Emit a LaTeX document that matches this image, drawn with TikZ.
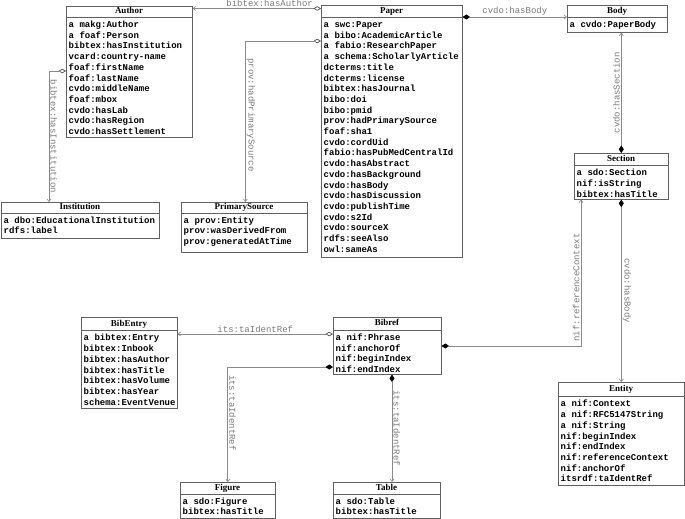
\documentclass[tikz,border=0pt]{standalone}
\usepackage{fontspec}
\setmainfont{Liberation Serif}
\newfontfamily\monof{Liberation Mono}
\usetikzlibrary{arrows.meta}
\definecolor{boxc}{HTML}{606060}
\definecolor{linec}{HTML}{8A8A8A}
\definecolor{lblc}{HTML}{7A7A7A}
\tikzset{
  clsbox/.style={draw=boxc, line width=0.6pt, inner sep=0pt, fill=white},
  clstitle/.style={font=\bfseries\fontsize{9}{10}\selectfont, text height=6pt, text depth=1.5pt, inner sep=0pt},
  clssep/.style={draw=boxc, line width=0.6pt},
  clsrows/.style={font=\monof\bfseries\fontsize{9}{10.7}\selectfont, align=left, inner xsep=2.5pt, inner ysep=3pt},
  odiam/.tip={Diamond[open,length=7.5pt,width=4.5pt,color=black!70]},
  fdiam/.tip={Diamond[length=7.5pt,width=5pt,color=black]},
  harr/.tip={Straight Barb[length=2.5pt,width=4pt]},
  assoc/.style={draw=linec, line width=0.65pt},
  agg/.style={assoc, odiam-harr},
  comp/.style={assoc, fdiam-harr},
  lbl/.style={font=\monof\fontsize{9}{10}\selectfont, text=lblc, inner sep=1.2pt},
}
\newcommand{\umlclass}[8]{%
  \node[clsbox, minimum width={#4-#2}, minimum height={#5-#3}, anchor=north west] (#1) at (#2,#3) {};
  \node[clstitle] (#1t) at ({(#2+#4)/2},{(#3+#6)/2}) {#7};
  \draw[clssep] (#2,#6) -- (#4,#6);
  \node[clsrows, anchor=north west] (#1r) at (#2,#6) {\rule{0pt}{7pt}#8};
}
\begin{document}
\begin{tikzpicture}[x=1pt,y=-1pt]
\useasboundingbox (0,0) rectangle (685,519);

\umlclass{author}{66}{6}{192}{137}{17.3}{Author}{a makg:Author\\a foaf:Person\\bibtex:hasInstitution\\vcard:country-name\\foaf:firstName\\foaf:lastName\\cvdo:middleName\\foaf:mbox\\cvdo:hasLab\\cvdo:hasRegion\\cvdo:hasSettlement}

\umlclass{paper}{321}{5}{462}{257}{17.3}{Paper}{a swc:Paper\\a bibo:AcademicArticle\\a fabio:ResearchPaper\\a schema:ScholarlyArticle\\dcterms:title\\dcterms:license\\bibtex:hasJournal\\bibo:doi\\bibo:pmid\\prov:hadPrimarySource\\foaf:sha1\\cvdo:cordUid\\fabio:hasPubMedCentralId\\cvdo:hasAbstract\\cvdo:hasBackground\\cvdo:hasBody\\cvdo:hasDiscussion\\cvdo:publishTime\\cvdo:s2Id\\cvdo:sourceX\\rdfs:seeAlso\\owl:sameAs}

\umlclass{body}{567}{5}{667}{32}{17.3}{Body}{a cvdo:PaperBody}

\umlclass{section}{574}{153}{668}{199}{165.5}{Section}{a sdo:Section\\nif:isString\\bibtex:hasTitle}

\umlclass{inst}{1}{202}{159}{238}{213}{Institution}{a dbo:EducationalInstitution\\rdfs:label}

\umlclass{prim}{181}{202}{307}{252}{213}{PrimarySource}{a prov:Entity\\prov:wasDerivedFrom\\prov:generatedAtTime}

\umlclass{bibentry}{81}{317}{177}{408}{330.7}{BibEntry}{a bibtex:Entry\\bibtex:Inbook\\bibtex:hasAuthor\\bibtex:hasTitle\\bibtex:hasVolume\\bibtex:hasYear\\schema:EventVenue}

\umlclass{bibref}{333}{317}{441}{374}{330.3}{Bibref}{a nif:Phrase\\nif:anchorOf\\nif:beginIndex\\nif:endIndex}

\umlclass{figure}{180}{482}{275}{518}{494}{Figure}{a sdo:Figure\\bibtex:hasTitle}

\umlclass{table}{333}{482}{440}{518}{494}{Table}{a sdo:Table\\bibtex:hasTitle}

\umlclass{entity}{558}{382}{684}{485}{396.7}{Entity}{a nif:Context\\a nif:RFC5147String\\a nif:String\\nif:beginIndex\\nif:endIndex\\nif:referenceContext\\nif:anchorOf\\itsrdf:taIdentRef}

% connectors
\draw[agg] ([yshift=-3.5pt]paper.north west) -- ([yshift=-3.5pt]paper.north west -| author.east)
  node[lbl, pos=0.4, above] {bibtex:hasAuthor};

\draw[agg] ([yshift=-36pt]paper.north west) -| ([xshift=1pt]prim.north)
  node[lbl, pos=0.73, rotate=-90, anchor=south] {prov:hadPrimarySource};

\draw[agg] ([yshift=-65pt]author.north west) -| ([xshift=48pt]inst.north west)
  node[lbl, pos=0.75, rotate=-90, anchor=south] {bibtex:hasInstitution};

\draw[comp] ([yshift=-12pt]paper.north east) -- ([yshift=-12pt]paper.north east -| body.west)
  node[lbl, midway, above] {cvdo:hasBody};

\draw[comp] (section.north) -- (section.north |- body.south)
  node[lbl, midway, rotate=90, anchor=south] {cvdo:hasSection};

\draw[comp] (section.south) -- (section.south |- entity.north)
  node[lbl, midway, rotate=-90, anchor=south] {cvdo:hasBody};

\draw[comp] ([yshift=-29pt]bibref.north east) -| ([xshift=7pt]section.south west)
  node[lbl, pos=0.70, rotate=90, anchor=south] {nif:referenceContext};

\draw[agg] ([yshift=-17pt]bibref.north west) -- ([yshift=-17pt]bibref.north west -| bibentry.east)
  node[lbl, midway, above] {its:taIdentRef};

\draw[comp] ([yshift=-50pt]bibref.north west) -| (figure.north)
  node[lbl, pos=0.70, rotate=-90, anchor=south] {its:taIdentRef};

\draw[comp] ([xshift=59pt]bibref.south west) -- ([xshift=59pt]bibref.south west |- table.north)
  node[lbl, midway, rotate=-90, anchor=south] {its:taIdentRef};
\end{tikzpicture}
\end{document}
